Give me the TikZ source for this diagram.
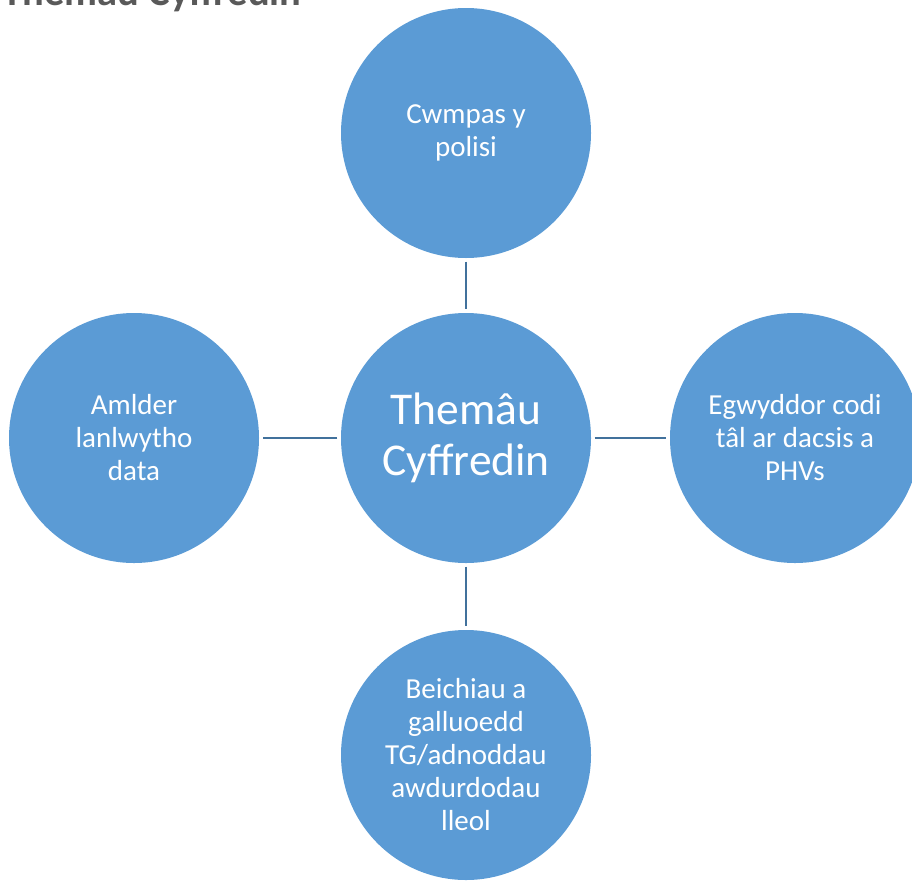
\documentclass[tikz,border=0pt]{standalone}
\usepackage{fontspec}
\setmainfont{Carlito}
\definecolor{bubble}{HTML}{5B9BD5}
\definecolor{link}{HTML}{41719C}
\definecolor{titlegray}{HTML}{595959}
\tikzset{
  bubble/.style={circle, fill=bubble, minimum size=250pt, inner sep=0pt, text=white, align=center,
    font=\fontsize{29}{33}\selectfont},
  hub/.style={bubble, font=\fontsize{45.5}{51}\selectfont},
  linkline/.style={draw=link, line width=2.2pt, shorten <=3.5pt, shorten >=3.5pt}
}
\begin{document}
\begin{tikzpicture}[x=1pt,y=-1pt]
\useasboundingbox (0,0) rectangle (912,881);
\node[hub] (c) at (466,438) {Themâu\\Cyffredin};
\node[bubble] (t) at (466,133) {Cwmpas y\\polisi};
\node[bubble] (l) at (134,438) {Amlder\\lanlwytho\\data};
\node[bubble] (r) at (795,438) {Egwyddor codi\\tâl ar dacsis a\\PHVs};
\node[bubble] (b) at (466,755) {Beichiau a\\galluoedd\\TG/adnoddau\\awdurdodau\\lleol};
\draw[linkline] (t.south) -- (c.north);
\draw[linkline] (c.west) -- (l.east);
\draw[linkline] (c.east) -- (r.west);
\draw[linkline] (c.south) -- (b.north);
\node[anchor=base east, text=titlegray, font=\fontsize{40.5}{48}\selectfont\bfseries] (title) at (305,5) {Themâu Cyffredin};
\end{tikzpicture}
\end{document}
